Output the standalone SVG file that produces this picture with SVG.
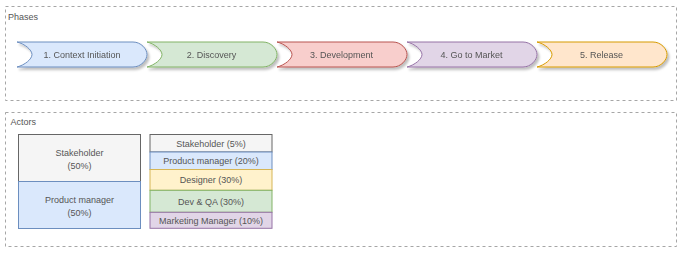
<svg xmlns="http://www.w3.org/2000/svg" width="683" height="253" viewBox="0 0 683 253">
<style>
text{font-family:"Liberation Sans",Arial,sans-serif;font-size:9px;fill:#555555;}
.c{text-anchor:middle;}
.cont{fill:#ffffff;stroke:#a6a6a6;stroke-width:1;stroke-dasharray:3 3;}
.box{stroke-width:1;}
</style>
<defs>
<filter id="sh" x="-10%" y="-20%" width="120%" height="160%">
<feDropShadow dx="2" dy="2.5" stdDeviation="1" flood-color="#000" flood-opacity="0.25"/>
</filter>
<path id="arr" d="M0,0 L116,0 C124,0 130,7 130,12.5 C130,18 124,25 116,25 L0,25 C8,23 15,17 15,12.5 C15,8 8,2 0,0 Z"/>
</defs>
<rect width="683" height="253" fill="#ffffff"/>
<g id="phases">
<rect class="cont" x="5.5" y="6.5" width="671" height="94"/>
<text x="8" y="20">Phases</text>
</g>
<g id="actors">
<rect class="cont" x="5.5" y="112.5" width="671" height="134"/>
<text x="10.5" y="125">Actors</text>
</g>
<g id="phase1" filter="url(#sh)">
<use href="#arr" x="17" y="42" fill="#dae8fc" stroke="#6c8ebf"/>
<text class="c" x="82" y="57.7">1. Context Initiation</text>
</g>
<g id="phase2" filter="url(#sh)">
<use href="#arr" x="147" y="42" fill="#d5e8d4" stroke="#82b366"/>
<text class="c" x="211.5" y="57.7">2. Discovery</text>
</g>
<g id="phase3" filter="url(#sh)">
<use href="#arr" x="277" y="42" fill="#f8cecc" stroke="#b85450"/>
<text class="c" x="341.5" y="57.7">3. Development</text>
</g>
<g id="phase4" filter="url(#sh)">
<use href="#arr" x="407" y="42" fill="#e1d5e7" stroke="#9673a6"/>
<text class="c" x="471.5" y="57.7">4. Go to Market</text>
</g>
<g id="phase5" filter="url(#sh)">
<use href="#arr" x="537" y="42" fill="#ffe6cc" stroke="#d79b00"/>
<text class="c" x="601.5" y="57.7">5. Release</text>
</g>
<g id="left-stakeholder">
<rect class="box" x="18.5" y="134.5" width="122" height="47" fill="#f5f5f5" stroke="#666666"/>
<text class="c" x="79.5" y="155.9">Stakeholder</text>
<text class="c" x="79.5" y="168.5">(50%)</text>
</g>
<g id="left-product-manager">
<rect class="box" x="18.5" y="181.5" width="122" height="47" fill="#dae8fc" stroke="#6c8ebf"/>
<text class="c" x="79.5" y="202.9">Product manager</text>
<text class="c" x="79.5" y="215.5">(50%)</text>
</g>
<g id="right-stakeholder">
<rect class="box" x="150" y="134.5" width="122" height="17.5" fill="#f5f5f5" stroke="#666666"/>
<text class="c" x="211" y="147.2">Stakeholder (5%)</text>
</g>
<g id="right-product-manager">
<rect class="box" x="150" y="152" width="122" height="17.5" fill="#dae8fc" stroke="#6c8ebf"/>
<text class="c" x="211" y="164.2">Product manager (20%)</text>
</g>
<g id="right-designer">
<rect class="box" x="150" y="169.5" width="122" height="20.8" fill="#fff2cc" stroke="#d6b656"/>
<text class="c" x="211" y="182.9">Designer (30%)</text>
</g>
<g id="right-devqa">
<rect class="box" x="150" y="190.3" width="122" height="22" fill="#d5e8d4" stroke="#82b366"/>
<text class="c" x="211" y="204.5">Dev &amp; QA (30%)</text>
</g>
<g id="right-marketing">
<rect class="box" x="150" y="212.3" width="122" height="16" fill="#e1d5e7" stroke="#9673a6"/>
<text class="c" x="211" y="223.5">Marketing Manager (10%)</text>
</g>
<g id="connectors"></g>
</svg>
